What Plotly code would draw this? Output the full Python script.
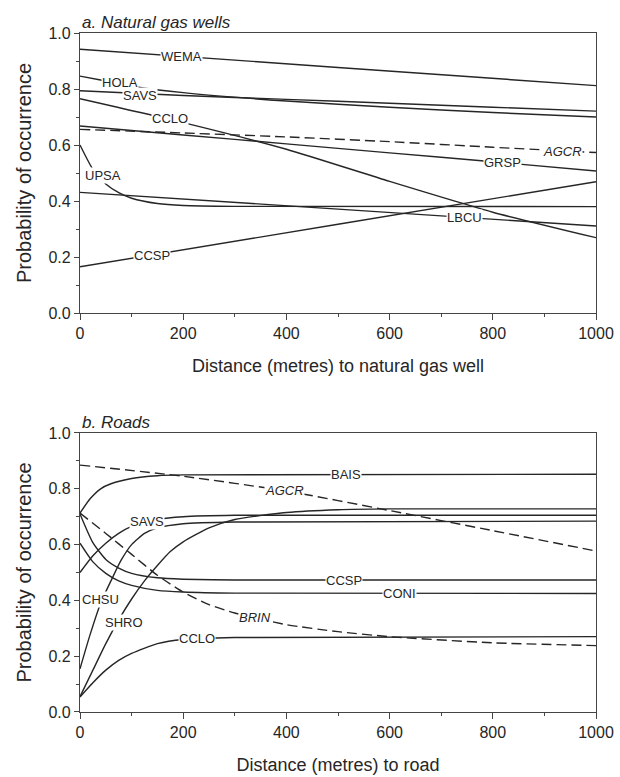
import plotly.graph_objects as go

# ---------------- Data ----------------
# Panel a: natural gas wells
gas_x_lin = [0, 500, 1000]
gas_x_pts = [0, 200, 400, 600, 800, 1000]
gas_x_upsa = [0, 25, 50, 75, 100, 150, 200, 300, 1000]

gas_WEMA = [0.942, 0.877, 0.812]
gas_HOLA_x = [0, 40, 100, 200, 400, 600, 800, 1000]
gas_HOLA = [0.846, 0.832, 0.81, 0.787, 0.757, 0.735, 0.716, 0.70]
gas_SAVS = [0.794, 0.777, 0.763, 0.749, 0.735, 0.721]
gas_CCLO = [0.765, 0.68, 0.585, 0.47, 0.36, 0.269]
gas_GRSP = [0.668, 0.636, 0.604, 0.572, 0.54, 0.507]
gas_AGCR = [0.656, 0.643, 0.629, 0.612, 0.592, 0.573]
gas_UPSA = [0.60, 0.513, 0.461, 0.43, 0.41, 0.391, 0.384, 0.381, 0.38]
gas_LBCU = [0.431, 0.371, 0.311]
gas_CCSP = [0.165, 0.317, 0.469]

# Panel b: roads
road_x_fast = [0, 25, 50, 75, 100, 150, 200, 300, 1000]
road_BAIS_x = [0, 20, 40, 60, 100, 150, 200, 1000]
road_BAIS = [0.713, 0.765, 0.80, 0.818, 0.837, 0.847, 0.85, 0.852]
road_AGCR_x = [0, 200, 400, 600, 800, 1000]
road_AGCR = [0.885, 0.845, 0.792, 0.722, 0.65, 0.577]
road_SAVS = [0.50, 0.56, 0.605, 0.64, 0.665, 0.69, 0.70, 0.705, 0.705]
road_CCSP = [0.71, 0.607, 0.547, 0.516, 0.497, 0.481, 0.476, 0.473, 0.473]
road_CONI = [0.605, 0.538, 0.497, 0.47, 0.454, 0.436, 0.43, 0.426, 0.425]
road_CHSU_x = [0, 20, 40, 60, 80, 100, 125, 150, 200, 300, 1000]
road_CHSU = [0.155, 0.28, 0.39, 0.47, 0.545, 0.60, 0.64, 0.66, 0.675, 0.681, 0.684]
road_SHRO_x = [0, 25, 50, 75, 100, 125, 150, 175, 200, 250, 300, 400, 500, 600, 1000]
road_SHRO = [0.055, 0.15, 0.245, 0.33, 0.405, 0.47, 0.525, 0.575, 0.61, 0.66, 0.69,
             0.715, 0.725, 0.728, 0.728]
road_BRIN_x = [0, 50, 100, 150, 200, 250, 300, 400, 500, 600, 800, 1000]
road_BRIN = [0.713, 0.64, 0.565, 0.49, 0.43, 0.385, 0.355, 0.313, 0.288, 0.27, 0.248, 0.238]
road_CCLO = [0.054, 0.105, 0.15, 0.185, 0.21, 0.245, 0.26, 0.267, 0.27]

# Labels: (text, x, y, italic)
gas_labels = [
    ("WEMA", 196, 0.917, False), ("HOLA", 77, 0.824, False), ("SAVS", 116, 0.776, False),
    ("CCLO", 174, 0.693, False), ("AGCR", 936, 0.577, True), ("GRSP", 818, 0.537, False),
    ("UPSA", 45, 0.49, False), ("LBCU", 746, 0.340, False), ("CCSP", 140, 0.207, False),
]
road_labels = [
    ("BAIS", 515, 0.852, False), ("AGCR", 397, 0.795, True), ("SAVS", 130, 0.684, False),
    ("CCSP", 512, 0.473, False), ("CONI", 620, 0.425, False), ("CHSU", 39, 0.405, False),
    ("SHRO", 85, 0.32, False), ("BRIN", 339, 0.337, True), ("CCLO", 227, 0.265, False),
]

FONT = "Arial, Liberation Sans, sans-serif"
INK = "#262626"
LW = 1.4
DASH = "10px,5px"

fig = go.Figure()

def add(x, y, axis, dashed=False):
    fig.add_trace(go.Scatter(
        x=x, y=y, mode="lines", xaxis="x" + axis, yaxis="y" + axis,
        line=dict(color=INK, width=LW, dash=DASH if dashed else "solid",
                  shape="spline", smoothing=0.6),
        hoverinfo="skip", showlegend=False))

# panel a (axis suffix "")
add(gas_x_lin, gas_WEMA, "")
add(gas_HOLA_x, gas_HOLA, "")
add(gas_x_pts, gas_SAVS, "")
add(gas_x_pts, gas_CCLO, "")
add(gas_x_pts, gas_GRSP, "")
add(gas_x_pts, gas_AGCR, "", dashed=True)
add(gas_x_upsa, gas_UPSA, "")
add(gas_x_lin, gas_LBCU, "")
add(gas_x_lin, gas_CCSP, "")

# panel b (axis suffix "2")
add(road_BAIS_x, road_BAIS, "2")
add(road_AGCR_x, road_AGCR, "2", dashed=True)
add(road_x_fast, road_SAVS, "2")
add(road_x_fast, road_CCSP, "2")
add(road_x_fast, road_CONI, "2")
add(road_CHSU_x, road_CHSU, "2")
add(road_SHRO_x, road_SHRO, "2")
add(road_BRIN_x, road_BRIN, "2", dashed=True)
add(road_x_fast, road_CCLO, "2")

annotations = []
for labels, xr, yr in ((gas_labels, "x", "y"), (road_labels, "x2", "y2")):
    for text, lx, ly, it in labels:
        annotations.append(dict(
            x=lx, y=ly, xref=xr, yref=yr, showarrow=False,
            text=f"<i>{text}</i>" if it else text,
            font=dict(family=FONT, size=13, color=INK),
            bgcolor="white", borderpad=0))

annotations.append(dict(x=0, y=1, xref="paper", yref="paper", xanchor="left",
                        yanchor="bottom", yshift=-1, showarrow=False,
                        text="<i>a. Natural gas wells</i>",
                        font=dict(family=FONT, size=17, color=INK)))
annotations.append(dict(x=0, y=0.4109, xref="paper", yref="paper", xanchor="left",
                        yanchor="bottom", yshift=-1, showarrow=False,
                        text="<i>b. Roads</i>",
                        font=dict(family=FONT, size=17, color=INK)))

def xaxis(title, anchor):
    return dict(range=[0, 1000], dtick=200, tick0=0, anchor=anchor, automargin=False,
                showgrid=False, zeroline=False, showline=True, mirror=True,
                linecolor="#444", linewidth=1.2, ticks="outside", ticklen=6,
                tickcolor="#444", tickwidth=1.2,
                minor=dict(dtick=100, ticks="outside", ticklen=3, tickcolor="#444"),
                tickfont=dict(family=FONT, size=16, color=INK),
                title=dict(text=title, font=dict(family=FONT, size=18, color=INK), standoff=18))

def yaxis(domain, anchor):
    return dict(range=[0, 1], dtick=0.2, tick0=0, tickformat=".1f", domain=domain,
                anchor=anchor, automargin=False,
                showgrid=False, zeroline=False, showline=True, mirror=True,
                linecolor="#444", linewidth=1.2, ticks="outside", ticklen=5,
                tickcolor="#444", tickwidth=1.2,
                minor=dict(dtick=0.1, ticks="outside", ticklen=3, tickcolor="#444"),
                tickfont=dict(family=FONT, size=16, color=INK),
                title=dict(text="Probability of occurrence",
                           font=dict(family=FONT, size=20, color=INK), standoff=11))

fig.update_layout(
    width=620, height=777,
    margin=dict(l=80, r=24, t=33, b=65),
    paper_bgcolor="white", plot_bgcolor="white",
    xaxis=xaxis("Distance (metres) to natural gas well", "y"),
    yaxis=yaxis([0.5876, 1.0], "x"),
    xaxis2=xaxis("Distance (metres) to road", "y2"),
    yaxis2=yaxis([0.0, 0.4109], "x2"),
    annotations=annotations,
    font=dict(family=FONT, color=INK),
)

fig.write_html("out.html", config={"displayModeBar": False},
               post_script="document.body.style.margin='0';document.body.style.overflow='hidden';")
